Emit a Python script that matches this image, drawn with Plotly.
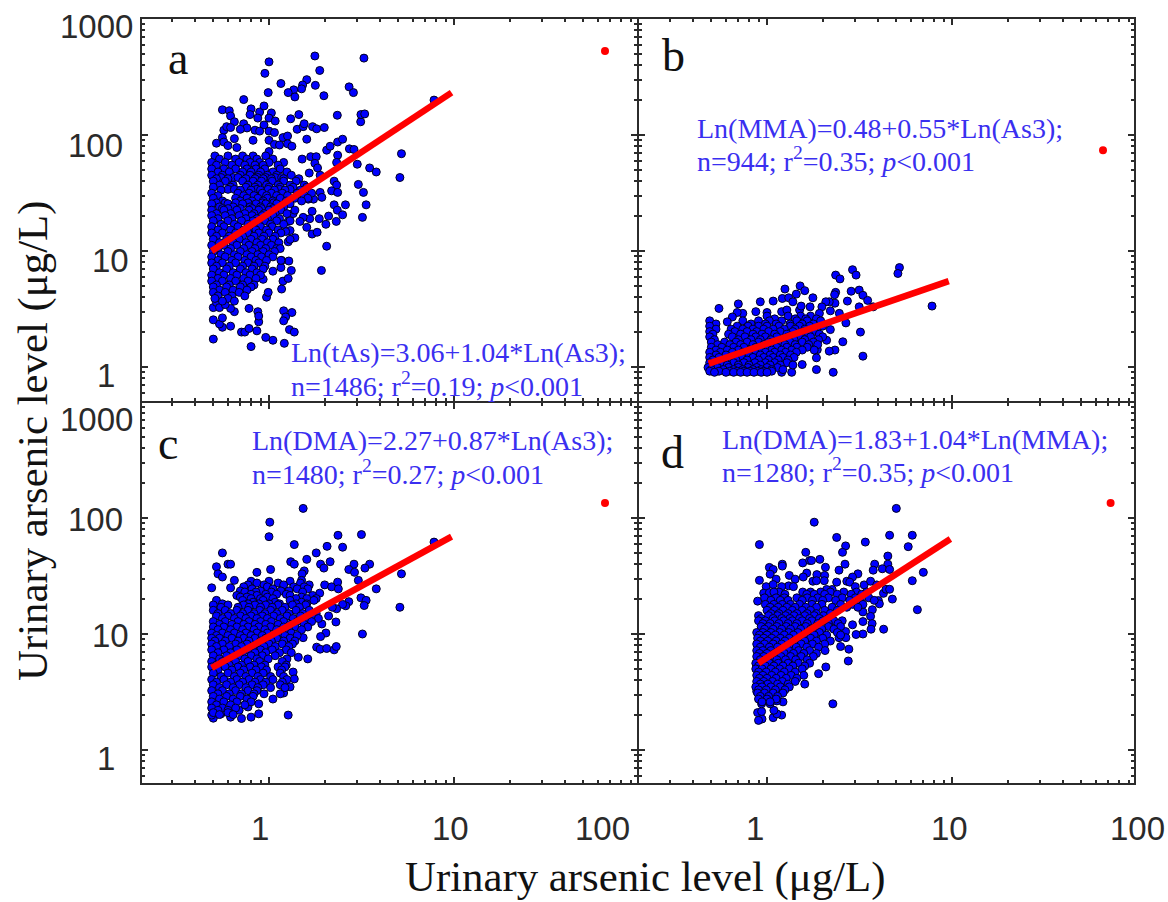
import plotly.graph_objects as go

# Isolated points read one by one (x, y) in ug/L
a_points = [(1.77,480),(3.26,460),(1.0,427),(.95,340),(1.88,360),(1.16,278),(1.6,300),(1.52,270),(1.78,268),(1.5,250),(1.36,245),(1.27,232),(.99,232),(1.38,213),(1.98,218),(2.71,260),(2.86,232),(.73,202),(7.8,200),(.56,165),(.61,162),(.62,146),(.65,130),(.8,168),(.79,150),(.89,158),(.87,140),(.94,178),(1.03,155),(1.0,140),(1.08,132),(.94,122),(.73,125),(.76,115),(.7,112),(.84,110),(.89,108),(1.31,138),(1.45,150),(2.34,148),(3.13,130),(3.14,150),(3.29,152),(1.42,112),(1.53,118),(1.55,125),(1.72,118),(1.81,113),(1.99,116),(.57,110),(.59,118),(.62,116),(.56,95),(.65,93),(.52,85),(.57,87),(.6,81),(.67,78),(.82,90),(1.0,108),(1.07,105),(1.0,90),(1.07,83),(1.14,82),(1.19,95),(1.26,98),(1.26,84),(1.33,80),(1.6,92),(1.0,72),(2.05,74),(2.14,80),(2.35,87),(2.5,92),(2.72,76),(2.88,75),(2.35,67),(5.2,69),(3.0,56),(3.5,52),(3.8,48),(5.1,43),(1.51,62),(1.68,65),(1.8,65),(1.77,57),(1.83,52),(2.32,58),(1.65,47),(1.89,45),(2.25,40),(2.32,37),(3.04,37.5),(3.24,32),(1.89,32),(2.18,33),(2.35,32),(1.93,29),(1.74,28),(1.63,28),(1.5,28.5),(3.35,25),(2.59,25),(2.25,25),(2.34,22.5),(2.5,20.5),(3.2,19.5),(2.31,18),(2.03,17),(2.1,20),(1.87,19),(1.71,22),(1.66,19),(1.6,16),(1.71,14),(1.82,14.5),(2.05,11),(1.92,6.8),(1.53,19.5),(1.47,18),(1.35,21),(1.27,18),(1.3,15),(1.38,13),(1.27,12),(1.23,14.7),(.5,1.74),(.8,1.5),(1.21,1.6),(1.05,1.7),(.96,1.8),(.71,2.0),(.74,2.0),(.78,2.15),(.86,2.05),(1.29,2.1),(1.37,2.0),(.56,2.2),(.62,2.25),(.54,2.35),(.5,2.55),(.56,2.65),(.88,2.45),(.87,3.0),(.88,2.75),(1.2,3.05),(1.33,2.95),(1.23,2.7),(1.2,2.5),(.78,3.2),(.65,3.0),(.62,3.2),(.5,3.25),(.52,3.6),(.54,3.25),(.58,3.45),(.97,4.0),(.99,4.4),(1.17,4.7),(1.19,5.5),(1.27,5.8),(1.32,6.8),(1.28,8.2),(1.16,7.2),(1.05,6.7),(1.17,8.3),(.93,5.7)]
b_points = [(5.2,7.2),(5.1,6.4),(2.9,6.9),(3.03,6.2),(2.35,6.2),(2.48,5.75),(1.51,5.0),(1.25,4.7),(1.6,4.55),(1.44,4.25),(2.35,4.4),(2.85,4.5),(3.15,4.6),(3.3,4.15),(3.5,3.75),(1.77,3.95),(2.32,4.2),(1.21,3.9),(1.31,3.95),(.92,3.65),(1.08,3.7),(.7,3.5),(.55,3.2),(2.72,3.7),(2.33,3.55),(2.17,3.65),(2.08,3.65),(1.98,3.3),(1.71,3.3),(3.15,3.3),(3.75,3.3),(7.8,3.35),(.87,3.0),(.74,2.9),(.69,2.95),(.65,2.7),(.61,2.45),(1,2.95),(1.2,3.0),(1.28,3.1),(1.5,3.1),(1.38,3.65),(1.53,3.35),(1.92,2.9),(2.2,3.05),(2.46,2.9),(2.67,2.4),(2.2,2.1),(3.2,2.0),(2.57,1.65),(2.33,1.4),(2.17,1.37),(2.1,1.7),(3.3,1.24),(1.85,1.2),(1.85,.95),(2.28,.9),(1.55,1.05),(1.87,1.41),(1.2,.9),(1.36,.9)]
c_points = [(1.53,121),(1.01,92),(1,69),(2.36,71),(3.16,72),(1.37,59),(2.06,57),(2.5,56),(7.8,62),(.56,50),(1.8,50),(1.6,44),(1.31,42),(1.37,40),(2.14,42),(3.5,40),(2.88,40),(1.9,40),(1.98,37),(.52,38),(.6,40),(.62,40),(.53,33),(.56,31),(1.02,36),(.86,34),(1.55,35),(1.51,33),(1.5,29),(2.7,36),(2.9,34),(3.3,37),(5.2,33),(3.04,29),(.65,29),(.49,25),(.62,25),(3.8,24.5),(2,26.5),(2.18,25.5),(2.35,28),(2.37,24.5),(1.88,22.5),(3.14,20.5),(3.35,19.5),(3.27,17.6),(5.1,17),(2.7,19),(2.6,17.5),(2.5,18),(2.32,16.5),(2.2,17),(2.1,14.3),(2.3,12.7),(1.93,12.2),(2.03,10.2),(1.9,9.5),(3.2,10),(1.81,7.7),(1.89,7.4),(2.05,7.5),(2.25,7.3),(2.31,7.8),(1.62,6.1),(1.44,6.3),(1.53,9.3),(1.27,2.0),(1.35,4.7),(1.37,4.1),(1.3,3.5),(1.2,3.1),(1.15,3.05),(1.05,2.75),(.88,2.5),(.88,2.05),(.8,1.92),(.71,1.87),(.62,1.92),(.5,1.88),(.49,2.0),(.55,2.05),(.69,2.2),(.77,2.35)]
d_points = [(5,121),(1.8,92),(4.6,71),(6.1,71),(2.38,68),(.91,59),(2.66,57.5),(3.4,62),(5.8,56.6),(2.56,50.6),(1.62,50.6),(4.5,47),(1.56,41),(1.7,43),(1.74,43),(1.93,44),(1.21,40),(1.21,38.5),(1.03,37.5),(1.08,36),(2.64,40),(2.07,37.6),(2.45,35.5),(3.82,40),(4.5,40),(3.75,35.5),(4.2,36.5),(4.6,36),(7,34),(1.04,32.8),(1.32,32),(1.42,29.7),(1.12,29.7),(.91,29),(1.64,33.5),(1.57,31),(1.86,32.5),(2.05,32),(2.04,28.8),(1.77,28.5),(1.85,28.8),(3.1,33),(2.9,31),(2.7,28.5),(2.38,28),(2.8,28),(6.1,28.8),(.99,25.6),(1.08,26.7),(1.31,26),(1.39,25.6),(1.2,25.6),(.96,22.5),(1.03,22.7),(1.16,23),(2.25,24.2),(2.1,24.2),(3,25.6),(3.35,26.5),(3.63,28.5),(3.92,26.5),(4.26,22.4),(4.4,24.3),(4.6,24.3),(4.76,20),(4,19.4),(4.05,18.2),(.89,19.2),(6.5,16.2),(3.71,16.2),(3.63,14.2),(3.3,15.5),(3.3,12.8),(3.7,12.3),(3.65,11),(4.27,11),(3.3,10),(3.03,9.9),(2.9,12),(2.66,10.5),(2.67,9.3),(2.5,7.8),(2.45,9.3),(2.77,7.4),(2.75,5.85),(2.08,5.2),(1.9,4.55),(1.6,3.7),(2.27,2.5),(1.22,2.6),(1.2,2),(1.08,1.9),(1.13,2.05),(1.09,2.2),(.94,1.85),(.89,2.1),(.935,2.15),(.9,1.8),(1.04,2.5),(.935,2.5),(1.13,2.65),(.88,3.2)]

# Dense clouds, estimated by eye: (y level, x values at that level)
a_rows = [(66,[.51,.6,.72,.82,.96]),(62,[.54,.66,.76,.86,1.05]),(58,[.49,.58,.69,.79,.89,1.0,1.2]),(55,[.52,.63,.74,.84,.93,1.12]),(51,[.49,.57,.66,.76,.85,.95,1.15]),(48,[.53,.61,.72,.8,.9,1.05,1.25]),(45,[.49,.56,.7,.79,.88,.98,1.1,1.32]),(43,[.55,.64,.68,.87,.96,1.08,1.17]),(42,[.52,.6,.75,.84,.93,1.03,1.2,1.45]),(40,[.5,.58,.72,.82,.91,1.04,1.2,1.4]),(37,[.54,.64,.77,.87,.97,1.12,1.3,1.55]),(35.5,[.5,.62,.75,.84,1.0,1.15,1.35,1.6]),(34,[.6,.65,.86,.99,1.14,1.3]),(33.5,[.55,.7,.8,.9,1.07,1.22,1.48]),(31.5,[.49,.68,.78,.92,1.03,1.18,1.42,1.7]),(30,[.53,.73,.83,.97,1.1,1.26,1.55]),(28.5,[.5,.66,.76,.87,.98,1.15,1.38,1.62]),(27,[.56,.7,.81,.93,1.05,1.24,1.5]),(26,[.52,.58,.66,.77,.92,1.06]),(25.5,[.49,.6,.72,.85,.96,1.1,1.3]),(24,[.54,.64,.79,.9,1.02,1.2]),(23.2,[.56,.6,.7,.81,.91,1.05]),(22.5,[.49,.57,.67,.78,.88,1.0,1.16,1.38]),(21,[.52,.62,.74,.83,.94,1.08,1.25]),(20.2,[.49,.58,.69,.81,.92,1.05]),(19,[.53,.63,.75,.86,.98,1.14]),(18.2,[.5,.6,.71,.82,.95,1.1,1.3]),(17,[.55,.65,.77,.88,1.02,1.2]),(16.2,[.49,.57,.68,.79,.9,1.04]),(15.2,[.53,.62,.73,.85,.97,1.12]),(14.3,[.49,.56,.66,.77,.88,1.0,1.16]),(13.4,[.52,.61,.72,.83,.94,1.08]),(12.6,[.5,.59,.69,.8,.92,1.05,1.3]),(11.8,[.54,.64,.75,.86,.98,1.13]),(11.2,[.49,.57,.67,.78,.9,1.03]),(10.5,[.53,.62,.73,.84,.96,1.1,1.15]),(9.9,[.5,.6,.7,.81,.93,1.07]),(9.3,[.55,.65,.76,.87,1.0]),(8.9,[.49,.58,.68,.8,.91,1.05]),(8.3,[.53,.63,.74,.85,.97,1.16]),(7.9,[.49,.56,.66,.77,.88]),(7.4,[.52,.61,.72,.83,.95]),(7.0,[.5,.59,.7,.81,.93]),(6.5,[.54,.64,.75,.86]),(6.2,[.49,.57,.67,.79,.9]),(5.8,[.53,.62,.73,.85]),(5.5,[.49,.56,.66,.77]),(5.1,[.52,.61,.72,.83]),(4.9,[.5,.59,.7,.8]),(4.6,[.54,.64,.76]),(4.4,[.5,.58,.69]),(4.1,[.53,.63,.74]),(3.9,[.51,.6]),(3.7,[.56,.65])]
b_rows = [(2.75,[1.0,1.3,1.52,1.72]),(2.6,[1.1,1.42,1.62,1.85]),(2.5,[.49,.74,.9,1.03,1.2,1.45,1.65,1.95]),(2.35,[.53,.82,.98,1.12,1.33,1.55,1.78]),(2.25,[.49,.69,.79,.9,1.0,1.16,1.34,1.5,1.7,2.0]),(2.12,[.53,.64,.74,.84,.96,1.08,1.24,1.42,1.6,1.85]),(2.02,[.49,.67,.78,.88,1.02,1.18,1.38,1.58,1.8]),(1.92,[.51,.62,.72,.84,.94,1.1,1.28,1.48,1.68,1.92]),(1.82,[.49,.65,.76,.87,.98,1.13,1.3,1.5,1.72,2.0]),(1.72,[.52,.7,.82,.92,1.05,1.22,1.4,1.6,1.9]),(1.64,[.5,.59,.68,.78,.9,1.02,1.16,1.33,1.55,1.78]),(1.56,[.54,.63,.72,.84,.96,1.09,1.25,1.42,1.68,1.88]),(1.48,[.5,.57,.66,.75,.87,.99,1.13,1.28,1.45,1.65]),(1.4,[.53,.61,.7,.81,.93,1.06,1.2,1.36,1.55,1.8]),(1.34,[.49,.56,.65,.74,.86,.98,1.1,1.26,1.44]),(1.27,[.53,.6,.69,.8,.92,1.04,1.18,1.34]),(1.21,[.49,.55,.63,.73,.84,.96,1.08,1.22,1.4]),(1.15,[.51,.59,.68,.78,.9,1.02,1.15,1.3]),(1.09,[.49,.56,.66,.75,.86,.98,1.1,1.28]),(1.04,[.52,.61,.7,.8,.92,1.04,1.18,1.38]),(.99,[.48,.54,.62,.7,.79,.88,1,1.14]),(.95,[.5,.58,.66,.74,.84,.93,1.06,1.22]),(.92,[.49,.55,.63,.69,.75,.81,.89,.96,1.06]),(.9,[.52,.6,.66,.72,.78,.85,.93,1.0])]
c_rows = [(28.5,[.8,1.0,1.3]),(27.5,[.86,1.12,1.48]),(26.5,[.77,.94,1.2,1.65]),(25.5,[.73,.98,1.36,1.55]),(24.5,[.81,1.05,1.42,1.62]),(23.5,[.7,.9,1.16,1.28]),(23,[.74,.85,1.03,1.52]),(22,[.8,.96,1.1,1.24]),(21.5,[.67,.86,1.3,1.72]),(20.8,[.7,.76,.98,1.5]),(20.2,[.8,.9,1.05,1.4,1.6,1.8]),(19.5,[.52,.72,.93,1.3,1.75]),(18.8,[.82,1.08,1.5]),(18.2,[.56,.77,.88,1,1.14,1.4,1.6]),(17.8,[.5,.6,.73,.84,.96,1.12,1.34,1.58]),(17,[.55,.68,.78,.9,1.04,1.22,1.46]),(16,[.5,.58,.67,.77,.89,1.02,1.18,1.4,1.65]),(15,[.53,.62,.72,.83,.95,1.1,1.28,1.52,1.8]),(14.3,[.52,.6,.7,.8,.92,1.06,1.25,1.48,1.72]),(13.6,[.56,.65,.75,.86,.98,1.15,1.35,1.6,1.85]),(12.8,[.5,.58,.68,.78,.9,1.03,1.2,1.42,1.7]),(12.1,[.54,.63,.73,.84,.96,1.12,1.3,1.55]),(11.5,[.5,.57,.67,.77,.88,1.02,1.2,1.38,1.62]),(10.9,[.53,.62,.72,.83,.95,1.1,1.28,1.5]),(10.2,[.49,.56,.65,.75,.86,.98,1.13,1.32]),(9.7,[.52,.6,.7,.8,.92,1.05,1.22,1.42]),(9.2,[.49,.54,.63,.73,.84,.96,1.1,1.3]),(8.7,[.51,.58,.68,.78,.9,1.03,1.2,1.38]),(8.2,[.49,.56,.66,.76,.88,1,1.18,1.34]),(7.8,[.52,.61,.71,.82,.94,1.08,1.28]),(7.3,[.49,.57,.67,.78,.9,1.04,1.24]),(6.9,[.53,.62,.72,.84,.96,1.14,1.32]),(6.5,[.5,.59,.69,.8,.92,1.08]),(6.1,[.54,.64,.74,.86,.99,1.25]),(5.8,[.49,.56,.66,.77,.89,1.18]),(5.4,[.52,.61,.71,.83,.95,1.24]),(5.2,[.49,.58,.68,.79,.91,1.12,1.22]),(4.9,[.53,.63,.73,.85,.97,1.17]),(4.6,[.5,.6,.7,.81,.93,1.15]),(4.3,[.55,.65,.75,.87,1.02,1.2]),(4.05,[.49,.57,.67,.78,.9,1.05,1.25]),(3.85,[.52,.62,.72,.84,.96,1.18]),(3.65,[.5,.59,.69,.81,.93,1.15]),(3.45,[.54,.64,.75,.87,1.02,1.22]),(3.25,[.49,.56,.66,.77,.86]),(3.05,[.53,.61,.71,.83,.94]),(2.9,[.5,.59,.7,.82]),(2.75,[.54,.64,.76]),(2.6,[.49,.57,.67,.8]),(2.45,[.52,.62,.74]),(2.3,[.49,.56,.66]),(2.2,[.53,.6]),(2.1,[.5,.6]),(2.02,[.54,.64])]
d_rows = [(23,[1.09,1.56,1.72,1.95,2.2,2.6,3.05,3.45]),(22,[1.25,1.64,1.8,2.05,2.4,2.85,3.25]),(20.5,[.97,1.12,1.24,1.45,1.65,1.88,2.15,2.55,3,3.55]),(19.5,[1.05,1.18,1.3,1.55,1.76,2,2.35,2.8,3.2,3.8]),(18,[.98,1.09,1.21,1.34,1.5,1.75,1.98,2.5,2.9,3.3]),(17,[1.04,1.15,1.28,1.42,1.62,1.85,2.25,2.7,3.1]),(16,[1,1.1,1.22,1.37,1.55,1.72,2.05,2.4]),(15,[1.05,1.16,1.3,1.45,1.65,1.85,2.2]),(14.4,[.9,1.02,1.14,1.26,1.4,1.6,1.8,2.02]),(13.6,[.93,1.08,1.2,1.33,1.5,1.7,1.92,2.15]),(13,[.9,.98,1.1,1.23,1.37,1.55,1.75,2,2.3,2.55]),(12.3,[.95,1.04,1.16,1.3,1.45,1.65,1.88,2.15,2.42]),(11.6,[.93,1.02,1.13,1.27,1.42,1.62,1.85,2.15,2.5]),(11,[.97,1.08,1.2,1.34,1.52,1.72,1.98,2.3]),(10.3,[.88,.95,1.05,1.17,1.31,1.47,1.7,1.92,2.4]),(9.8,[.91,1,1.11,1.24,1.39,1.58,1.8,2.1,2.5]),(9.2,[.89,.96,1.06,1.18,1.32,1.5,1.72,2]),(8.7,[.92,1.01,1.12,1.25,1.4,1.6,1.85,2.2]),(8.2,[.88,.97,1.08,1.2,1.35,1.53,1.76,2.05]),(7.7,[.92,1.03,1.14,1.27,1.44,1.64,1.9]),(7.2,[.88,.95,1.05,1.17,1.31,1.48,1.7,2.06]),(6.8,[.91,1,1.1,1.24,1.39,1.58,1.85]),(6.4,[.88,.96,1.07,1.19,1.34,1.53,1.78]),(6,[.92,1.01,1.13,1.26,1.43,1.65]),(5.6,[.87,.94,1.03,1.15,1.3,1.48,1.7]),(5.3,[.9,.98,1.09,1.22,1.38,1.6]),(5,[.87,.94,1.05,1.17,1.32,1.55]),(4.7,[.9,.99,1.11,1.24,1.42]),(4.4,[.88,.95,1.06,1.19,1.35,1.58]),(4.15,[.91,1,1.12,1.27,1.45]),(3.9,[.88,.96,1.07,1.21,1.42]),(3.7,[.92,1.01,1.14,1.3]),(3.5,[.87,.94,1.05,1.18,1.32]),(3.3,[.9,.99,1.11,1.25]),(3.1,[.89,.97,1.08,1.22]),(2.9,[.92,1.02,1.14]),(2.75,[.9,1,1.12]),(2.6,[.94,1.04])]

# Fitted lines read at their ends (x, y)
a_line = ([.49, 9.7], [10, 232])
b_line = ([.484, 9.6], [1.07, 5.5])
c_line = ([.49, 9.7], [5.1, 69])
d_line = ([.9, 9.8], [5.6, 66])
# Lone red dots
red_dots = {"a": (65.5, 530), "b": (65.5, 74), "c": (65.5, 135), "d": (72, 135)}

def expand(points, rows):
    xs = [p[0] for p in points]
    ys = [p[1] for p in points]
    for y, row in rows:
        xs += row
        ys += [y] * len(row)
    return xs, ys

W, H = 1168, 902
fig = go.Figure()

decades = [0.1, 1, 10, 100, 1000]
minor_vals = [d * m for d in decades for m in range(2, 10)]
AX = "#2b2b2b"
XDEC, YDEC = 185, 116

# name, axes, data, plot-area pixel box, pixel of value 1 on x and y
panels = [
    ("a", "x", "y", a_points, a_rows, a_line, (142, 637), (19, 401), 269, 367),
    ("b", "x2", "y2", b_points, b_rows, b_line, (639, 1134), (19, 401), 767, 367),
    ("c", "x3", "y3", c_points, c_rows, c_line, (142, 637), (403, 783), 269, 750),
    ("d", "x4", "y4", d_points, d_rows, d_line, (639, 1134), (403, 783), 767, 750),
]

layout = {}
for name, xa, ya, pts, rows, line, xpx, ypx, x1, y1 in panels:
    xs, ys = expand(pts, rows)
    fig.add_trace(go.Scatter(x=xs, y=ys, xaxis=xa, yaxis=ya, mode="markers", showlegend=False,
                             marker=dict(color="#0000ff", size=8, line=dict(color="#000020", width=1))))
    fig.add_trace(go.Scatter(x=line[0], y=line[1], xaxis=xa, yaxis=ya, mode="lines", showlegend=False,
                             line=dict(color="#ff0000", width=6.5)))
    rd = red_dots[name]
    fig.add_trace(go.Scatter(x=[rd[0]], y=[rd[1]], xaxis=xa, yaxis=ya, mode="markers", showlegend=False,
                             marker=dict(color="#ff0000", size=8)))
    common = dict(type="log", showgrid=False, zeroline=False, showline=True, linecolor=AX, linewidth=2,
                  mirror="ticks", ticks="inside", ticklen=6, tickwidth=1.5, tickcolor=AX,
                  tickvals=[1, 10, 100, 1000], showticklabels=False,
                  minor=dict(ticks="inside", ticklen=3, tickwidth=1.5, tickcolor=AX, tickvals=minor_vals))
    xk = "xaxis" + xa[1:]
    yk = "yaxis" + ya[1:]
    layout[xk] = dict(common, domain=[xpx[0] / W, xpx[1] / W], anchor=ya,
                      range=[(xpx[0] - x1) / XDEC, (xpx[1] - x1) / XDEC])
    layout[yk] = dict(common, domain=[1 - ypx[1] / H, 1 - ypx[0] / H], anchor=xa,
                      range=[(y1 - ypx[1]) / YDEC, (y1 - ypx[0]) / YDEC])

SANS = "Liberation Sans"
SERIF = "Liberation Serif"
BLUE = "#3a2ff0"
ann = []
def text(s, px, py, size, font, color="#111111", xanchor="center", angle=0, yanchor="middle"):
    ann.append(dict(text=s, x=px / W, y=1 - py / H, xref="paper", yref="paper", showarrow=False,
                    font=dict(family=font, size=size, color=color), xanchor=xanchor, yanchor=yanchor,
                    textangle=angle, borderpad=0, borderwidth=0))

def baseline_text(s, px, base, size, font, color="#111111", xanchor="center"):
    text(s, px, base + 0.216 * size, size, font, color=color, xanchor=xanchor, yanchor="bottom")

TICK = "#2a2a2a"
for s, px, py in [("1000", 96, 27), ("100", 95, 145), ("10", 110, 260), ("1", 106, 375),
                  ("1000", 96, 420), ("100", 95, 519), ("10", 110, 635), ("1", 106, 758)]:
    text(s, px, py, 33, SANS, color=TICK)
for s, px in [("1", 260), ("10", 450), ("100", 602), ("1", 755), ("10", 949), ("100", 1137)]:
    text(s, px, 828, 33, SANS, color=TICK)

baseline_text("Urinary arsenic level (μg/L)", 645.5, 892, 42.8, SERIF)
text("Urinary arsenic level (μg/L)", 33, 441, 42.8, SERIF, angle=-90)

for s, px, base in [("a", 178, 74), ("b", 673, 71), ("c", 168, 459), ("d", 672, 468)]:
    baseline_text(s, px, base, 46, SERIF)

eqs = [
    ("Ln(tAs)=3.06+1.04*Ln(As3);", 291, 362), ("n=1486; r<sup>2</sup>=0.19; <i>p</i><0.001", 291, 396),
    ("Ln(MMA)=0.48+0.55*Ln(As3);", 697, 138), ("n=944; r<sup>2</sup>=0.35; <i>p</i><0.001", 697, 171),
    ("Ln(DMA)=2.27+0.87*Ln(As3);", 252, 450), ("n=1480; r<sup>2</sup>=0.27; <i>p</i><0.001", 252, 484),
    ("Ln(DMA)=1.83+1.04*Ln(MMA);", 722, 449), ("n=1280; r<sup>2</sup>=0.35; <i>p</i><0.001", 722, 482),
]
for s, px, base in eqs:
    baseline_text(s, px, base, 28, SERIF, color=BLUE, xanchor="left")

fig.update_layout(width=W, height=H, margin=dict(l=0, r=0, t=0, b=0), paper_bgcolor="white",
                  plot_bgcolor="white", annotations=ann, **layout)
fig.write_html("out.html", config={"displayModeBar": False},
               post_script="document.body.style.margin='0';")
